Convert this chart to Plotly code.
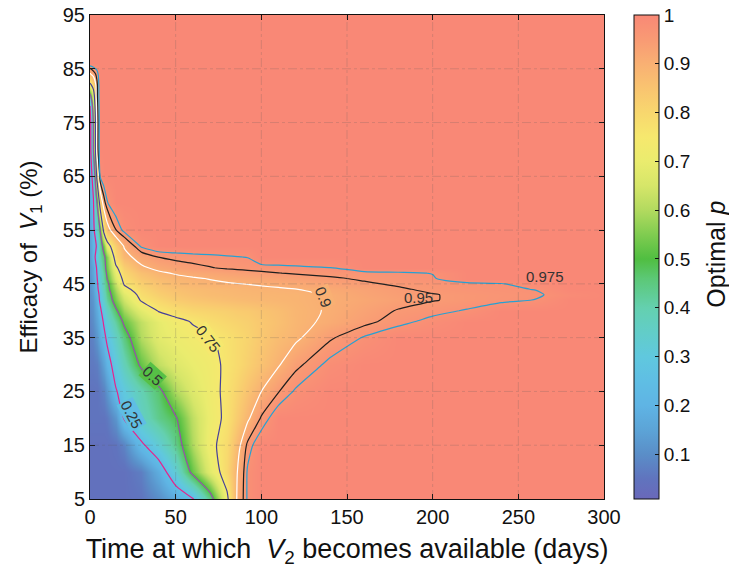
import plotly.graph_objects as go

# ---- data ----
time_days = [0, 2, 4, 6, 8, 10, 15, 20, 30, 40, 50, 60, 70, 80, 86, 92, 100,
             110, 120, 140, 160, 180, 200, 220, 240, 260, 280, 300]
efficacy = [5, 10, 15, 20, 25, 30, 35, 38, 40, 42, 43, 44, 45, 46, 47, 48, 50,
            52, 55, 60, 65, 70, 75, 78, 80, 82, 84, 86, 95]

N = len(time_days)


def row(*vals):
    v = list(vals)
    return v + [1.0] * (N - len(v))


optimal_p = [
    row(0.04, 0.04, 0.04, 0.04, 0.04, 0.04, 0.04, 0.04, 0.05, 0.10, 0.17, 0.24, 0.44, 0.73, 0.91, 0.98),
    row(0.04, 0.04, 0.04, 0.04, 0.04, 0.04, 0.04, 0.04, 0.07, 0.18, 0.33, 0.53, 0.68, 0.80, 0.90, 0.98),
    row(0.04, 0.04, 0.04, 0.04, 0.04, 0.04, 0.05, 0.08, 0.23, 0.33, 0.44, 0.60, 0.725, 0.79, 0.875, 0.96),
    row(0.05, 0.05, 0.05, 0.05, 0.05, 0.06, 0.12, 0.26, 0.36, 0.44, 0.49, 0.62, 0.71, 0.77, 0.83, 0.89, 0.955),
    row(0.05, 0.05, 0.05, 0.06, 0.08, 0.12, 0.24, 0.30, 0.39, 0.47, 0.60, 0.67, 0.72, 0.77, 0.81, 0.855, 0.90, 0.948, 0.98),
    row(0.06, 0.06, 0.07, 0.10, 0.15, 0.20, 0.30, 0.38, 0.52, 0.62, 0.67, 0.70, 0.725, 0.765, 0.79, 0.82, 0.855, 0.895, 0.94, 0.985),
    row(0.07, 0.08, 0.12, 0.17, 0.22, 0.27, 0.36, 0.45, 0.60, 0.68, 0.71, 0.73, 0.743, 0.77, 0.79, 0.81, 0.84, 0.87, 0.89, 0.945, 0.978),
    row(0.08, 0.10, 0.15, 0.20, 0.26, 0.32, 0.42, 0.52, 0.62, 0.69, 0.73, 0.755, 0.78, 0.80, 0.81, 0.82, 0.84, 0.86, 0.885, 0.91, 0.94, 0.965, 0.985),
    row(0.09, 0.11, 0.17, 0.23, 0.30, 0.36, 0.48, 0.58, 0.68, 0.755, 0.78, 0.80, 0.81, 0.82, 0.83, 0.835, 0.85, 0.865, 0.885, 0.905, 0.93, 0.953, 0.965, 0.978),
    row(0.10, 0.12, 0.19, 0.27, 0.35, 0.42, 0.55, 0.64, 0.76, 0.80, 0.83, 0.845, 0.855, 0.865, 0.87, 0.875, 0.88, 0.885, 0.89, 0.905, 0.92, 0.935, 0.948, 0.958, 0.967, 0.976),
    row(0.10, 0.13, 0.20, 0.28, 0.37, 0.44, 0.57, 0.67, 0.78, 0.82, 0.845, 0.86, 0.87, 0.875, 0.88, 0.882, 0.885, 0.888, 0.89, 0.905, 0.925, 0.94, 0.948, 0.958, 0.965, 0.970, 0.990),
    row(0.11, 0.14, 0.22, 0.30, 0.39, 0.46, 0.60, 0.72, 0.80, 0.84, 0.86, 0.87, 0.877, 0.883, 0.886, 0.889, 0.892, 0.895, 0.899, 0.915, 0.93, 0.945, 0.958, 0.965, 0.970, 0.976),
    row(0.11, 0.15, 0.23, 0.31, 0.40, 0.47, 0.63, 0.76, 0.82, 0.855, 0.875, 0.885, 0.892, 0.897, 0.899, 0.901, 0.905, 0.91, 0.915, 0.93, 0.945, 0.955, 0.962, 0.968, 0.973, 0.99),
    row(0.11, 0.15, 0.24, 0.33, 0.42, 0.50, 0.67, 0.78, 0.84, 0.87, 0.885, 0.895, 0.902, 0.908, 0.912, 0.916, 0.92, 0.926, 0.932, 0.945, 0.955, 0.963, 0.972),
    row(0.12, 0.16, 0.25, 0.34, 0.43, 0.52, 0.70, 0.80, 0.86, 0.89, 0.905, 0.915, 0.922, 0.93, 0.934, 0.938, 0.943, 0.949, 0.954, 0.96, 0.965, 0.97, 0.976),
    row(0.12, 0.16, 0.26, 0.36, 0.45, 0.54, 0.73, 0.82, 0.89, 0.915, 0.93, 0.94, 0.948, 0.955, 0.958, 0.961, 0.964, 0.967, 0.97, 0.974),
    row(0.13, 0.20, 0.30, 0.40, 0.47, 0.56, 0.80, 0.88, 0.925, 0.951, 0.96, 0.965, 0.968, 0.972, 0.974, 0.976),
    row(0.14, 0.20, 0.26, 0.42, 0.55, 0.70, 0.83, 0.905, 0.98),
    row(0.15, 0.22, 0.35, 0.51, 0.78, 0.87, 0.948, 0.985),
    row(0.17, 0.24, 0.49, 0.83, 0.93, 0.972),
    row(0.18, 0.30, 0.78, 0.985),
    row(0.17, 0.50, 0.92),
    row(0.18, 0.51, 0.92),
    row(0.24, 0.60, 0.93),
    row(0.45, 0.68, 0.94),
    row(0.72, 0.80, 0.94),
    row(0.89, 0.93, 0.96),
    row(),
    row(),
]

contour_levels = [0.25, 0.5, 0.75, 0.9, 0.95, 0.975]
contour_colors = ["#E6238C", "#9650AA", "#46409A", "#FFFFFF", "#1E1E1E", "#28A0D2"]
contour_label_text = ["0.25", "0.5", "0.75", "0.9", "0.95", "0.975"]

x_ticks = [0, 50, 100, 150, 200, 250, 300]
y_ticks = [5, 15, 25, 35, 45, 55, 65, 75, 85, 95]
cbar_ticks = [0.1, 0.2, 0.3, 0.4, 0.5, 0.6, 0.7, 0.8, 0.9, 1.0]
cbar_labels = ["0.1", "0.2", "0.3", "0.4", "0.5", "0.6", "0.7", "0.8", "0.9", "1"]

# ---- colour scale (value, colour) ----
zmin, zmax = 0.008, 1.0
cs_points = [
    (0.008, "rgb(106,104,186)"), (0.05, "rgb(96,116,190)"), (0.10, "rgb(90,142,200)"),
    (0.15, "rgb(92,164,215)"), (0.20, "rgb(95,180,228)"), (0.25, "rgb(95,190,228)"),
    (0.30, "rgb(96,200,222)"), (0.35, "rgb(98,205,200)"), (0.40, "rgb(100,208,175)"),
    (0.46, "rgb(92,200,118)"), (0.50, "rgb(80,190,65)"), (0.55, "rgb(128,204,80)"),
    (0.60, "rgb(178,218,95)"), (0.65, "rgb(214,230,105)"), (0.70, "rgb(234,236,110)"),
    (0.75, "rgb(246,232,110)"), (0.80, "rgb(248,215,110)"), (0.85, "rgb(249,196,112)"),
    (0.90, "rgb(249,176,115)"), (0.95, "rgb(249,154,116)"), (1.00, "rgb(249,136,118)"),
]
colorscale = [[(v - zmin) / (zmax - zmin), c] for v, c in cs_points]
level_bg = {"0.25": "rgb(95,190,228)", "0.5": "rgb(86,192,70)", "0.75": "rgb(246,232,110)",
            "0.9": "rgb(249,176,115)"}

FONT = "Liberation Sans, Arial, Helvetica, sans-serif"

fig = go.Figure()
fig.add_trace(go.Heatmap(
    x=time_days, y=efficacy, z=optimal_p, zsmooth="best",
    colorscale=colorscale, zmin=zmin, zmax=zmax,
    colorbar=dict(
        x=1.058, xanchor="left", xpad=0, ypad=0, y=0.5, len=1, thickness=25,
        outlinewidth=1, outlinecolor="#111",
        tickvals=cbar_ticks, ticktext=cbar_labels, ticks="inside", ticklen=4,
        tickcolor="#111", tickfont=dict(size=19, color="#111", family=FONT),
    ),
    hoverinfo="skip",
))

for lev, col in zip(contour_levels, contour_colors):
    fig.add_trace(go.Contour(
        x=time_days, y=efficacy, z=optimal_p, autocontour=False,
        contours=dict(start=lev, end=lev, size=0.01, coloring="none", showlabels=False),
        line=dict(color=col, width=1.2, smoothing=0.6),
        showscale=False, hoverinfo="skip",
    ))

# contour labels, placed where the reference shows them
label_pos = {
    "0.25": (24.3, 20.7, 62),
    "0.5": (36.3, 27.9, 42),
    "0.75": (69.0, 34.9, 52),
    "0.9": (136.0, 42.6, 68),
    "0.95": (192.0, 42.4, 0),
    "0.975": (265.5, 46.3, 0),
}
annotations = []
for txt in contour_label_text:
    lx, ly, ang = label_pos[txt]
    annotations.append(dict(
        x=lx, y=ly, xref="x", yref="y", text=txt, showarrow=False, textangle=ang,
        font=dict(size=15, color="#333", family=FONT),
        bgcolor=level_bg.get(txt, "rgba(0,0,0,0)"), borderpad=0,
    ))

# colour-bar title
annotations.append(dict(
    x=1.218, y=0.505, xref="paper", yref="paper", text="Optimal <i>p</i>",
    showarrow=False, textangle=-90, xanchor="center", yanchor="middle",
    font=dict(size=25, color="#111", family=FONT),
))

# dash-dot grid drawn over the colour field
shapes = []
for xv in x_ticks[1:-1]:
    shapes.append(dict(type="line", xref="x", yref="paper", x0=xv, x1=xv, y0=0, y1=1,
                       line=dict(color="rgba(90,90,90,0.28)", width=0.8, dash="dashdot"),
                       layer="above"))
for yv in y_ticks[1:-1]:
    shapes.append(dict(type="line", xref="paper", yref="y", x0=0, x1=1, y0=yv, y1=yv,
                       line=dict(color="rgba(90,90,90,0.28)", width=0.8, dash="dashdot"),
                       layer="above"))

fig.update_layout(
    width=729, height=573,
    margin=dict(l=90, r=125, t=15, b=74, autoexpand=False),
    paper_bgcolor="white", plot_bgcolor="white",
    font=dict(family=FONT, color="#111"),
    showlegend=False,
    shapes=shapes,
    annotations=annotations,
    xaxis=dict(
        range=[0, 300], tickvals=x_ticks, ticks="inside", ticklen=5, tickcolor="#111",
        showline=True, linecolor="#111", linewidth=1, mirror="ticks", showgrid=False,
        zeroline=False, tickfont=dict(size=20, color="#111"),
        title=dict(text="Time at which  <i>V</i><sub>2</sub> becomes available (days)",
                   font=dict(size=27, color="#111"), standoff=12),
    ),
    yaxis=dict(
        range=[5, 95], tickvals=y_ticks, ticks="inside", ticklen=5, tickcolor="#111",
        showline=True, linecolor="#111", linewidth=1, mirror="ticks", showgrid=False,
        zeroline=False, tickfont=dict(size=20, color="#111"),
        title=dict(text="Efficacy of  <i>V</i><sub>1</sub> (%)",
                   font=dict(size=24, color="#111"), standoff=18),
    ),
)

fig.write_html("out.html")
